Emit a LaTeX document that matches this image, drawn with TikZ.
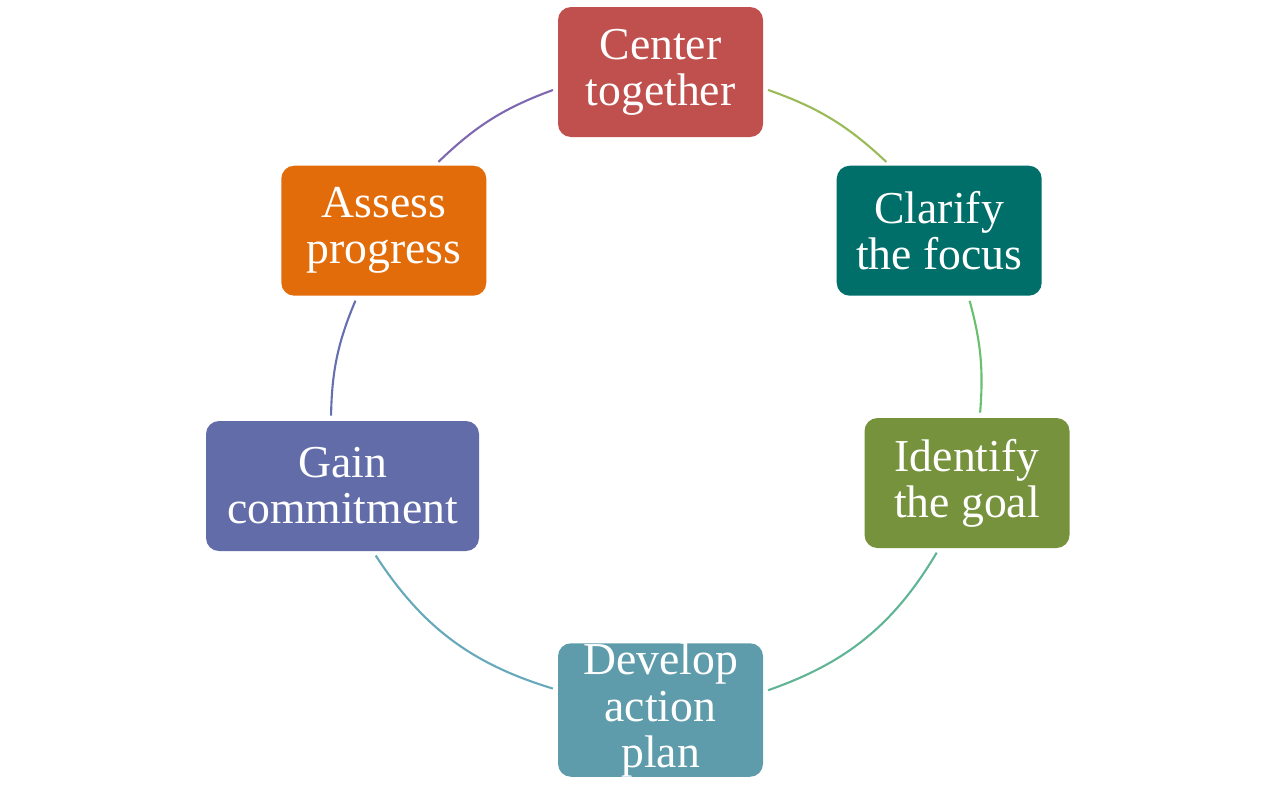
\documentclass[tikz,border=0pt]{standalone}
\usepackage{fontspec}
\setmainfont{Liberation Serif}
\usetikzlibrary{positioning}
\definecolor{boxred}{RGB}{192,80,77}
\definecolor{boxteal}{RGB}{0,111,106}
\definecolor{boxolive}{RGB}{118,146,60}
\definecolor{boxblue}{RGB}{95,156,171}
\definecolor{boxpurple}{RGB}{98,108,168}
\definecolor{boxorange}{RGB}{227,108,10}
\definecolor{linkA}{RGB}{155,187,89}
\definecolor{linkB}{RGB}{104,192,110}
\definecolor{linkC}{RGB}{96,182,148}
\definecolor{linkD}{RGB}{101,169,186}
\definecolor{linkE}{RGB}{102,112,176}
\definecolor{linkF}{RGB}{127,104,176}

\begin{document}
\begin{tikzpicture}[
            box/.style={rectangle, rounded corners=0.26cm, align=center, text=white, inner sep=0pt, minimum width=4.1cm, minimum height=2.6cm, font=\fontsize{26}{26.2}\selectfont},
            link/.style={line width=1.2pt, shorten <=0.1cm, shorten >=0.1cm}
        ]
            \useasboundingbox (0,0) rectangle (25.76,-16.1);
            \node[box, fill=boxred] (center) at (13.21,-1.44) {Center\\together};
            \node[box, fill=boxteal, below right=0.56cm and 1.46cm of center] (clarify) {Clarify\\the focus};
            \node[box, fill=boxorange, below left=0.56cm and 1.42cm of center] (assess) {Assess\\progress};
            \node[box, fill=boxolive] (identify) at (19.34,-9.66) {Identify\\the goal};
            \node[box, fill=boxblue] (develop) at (13.21,-14.2) {Develop\\action\\plan};
            \node[box, fill=boxpurple, minimum width=5.46cm] (gain) at (6.85,-9.72) {Gain\\commitment};
            \draw[link, linkA] (center.-9.5) to[bend left=12] (clarify.127.6);
            \draw[link, linkB] (clarify.-66.8) to[bend left=10] (identify.79.6);
            \draw[link, linkC] (identify.-113.5) to[bend left=20] (develop.10.5);
            \draw[link, linkD] (develop.169.1) to[bend left=20] (gain.-65.7);
            \draw[link, linkE] (gain.100.4) to[bend left=11] (assess.-112.9);
            \draw[link, linkF] (assess.52.1) to[bend left=12] (center.-171.2);
        \end{tikzpicture}
\end{document}
